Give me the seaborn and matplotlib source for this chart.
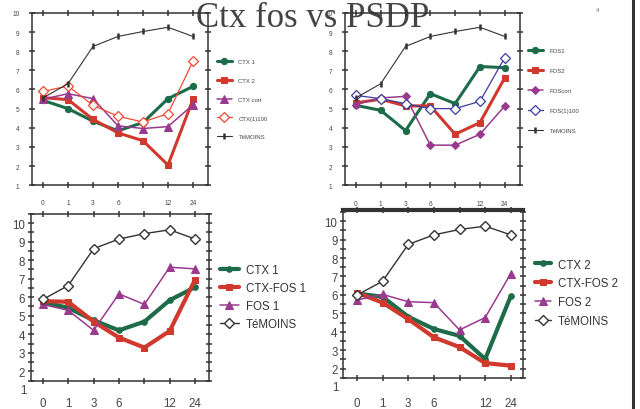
import numpy as np
import matplotlib
matplotlib.use("Agg")
import matplotlib.pyplot as plt
from matplotlib.lines import Line2D
import seaborn as sns

# Step 1: data
times = ["0", "1", "3", "6", "", "12", "24"]

# top-left panel (CTX)
ctx1_a = [5.43, 5.00, 4.34, 3.84, 4.27, 5.52, 6.16]
ctx2_a = [5.57, 5.47, 4.44, 3.73, 3.32, 2.05, 5.49]
ctxcort_a = [5.49, 5.78, 5.52, 4.10, 3.96, 4.06, 5.20]
ctx100_a = [5.90, 6.18, 5.17, 4.60, 4.30, 4.74, 7.48]
temoins_top = [5.56, 6.30, 8.25, 8.77, 9.03, 9.25, 8.77]

# top-right panel (FOS)
fos1_b = [5.17, 4.91, 3.85, 5.78, 5.26, 7.20, 7.14]
fos2_b = [5.30, 5.49, 5.14, 5.14, 3.66, 4.27, 6.61]
foscort_b = [5.21, 5.56, 5.64, 3.09, 3.09, 3.66, 5.14]
fos100_b = [5.69, 5.52, 5.26, 5.00, 5.00, 5.38, 7.67]

# bottom-left panel
ctx1_c = [5.73, 5.43, 4.75, 4.21, 4.68, 5.84, 6.54]
ctxfos1_c = [5.79, 5.75, 4.68, 3.82, 3.28, 4.18, 6.95]
fos1_c = [5.61, 5.29, 4.21, 6.18, 5.61, 7.62, 7.53]
temoins_c = [5.88, 6.63, 8.62, 9.14, 9.43, 9.64, 9.14]

# bottom-right panel
ctx2_d = [6.08, 5.90, 4.82, 4.15, 3.78, 2.52, 5.94]
ctxfos2_d = [6.12, 5.58, 4.69, 3.70, 3.17, 2.30, 2.16]
fos2_d = [5.72, 6.03, 5.63, 5.58, 4.10, 4.77, 7.16]
temoins_d = [5.99, 6.74, 8.74, 9.26, 9.55, 9.73, 9.26]

GREEN = "#1d6b48"
RED = "#d2392e"
PURPLE = "#9a3a8e"
ORANGE_RED = "#ee4a35"
BLUE = "#3a3d9c"
DARK = "#333333"

sns.set_style("ticks")
plt.rcParams["font.family"] = ["Liberation Sans", "DejaVu Sans"]

x = np.arange(len(times))

fig = plt.figure(figsize=(6.4, 4.1), dpi=100)


def draw(ax, series, lab_size, ylim, xlim):
    for vals, label, kw in series:
        sns.lineplot(x=x, y=vals, ax=ax, label=label, legend=False, **kw)
    ax.set_xlim(*xlim)
    ax.set_ylim(*ylim)
    ax.set_xticks(x)
    ax.set_xticklabels(times)
    ax.set_yticks([t for t in range(1, 11) if ylim[0] <= t <= ylim[1]])
    ax.set_xlabel("")
    ax.set_ylabel("")
    ax.patch.set_alpha(0)
    for s in ax.spines.values():
        s.set_visible(True)
        s.set_color(DARK)
        s.set_linewidth(1.1)
    ax.tick_params(axis="both", which="both", direction="inout", length=4,
                   width=1.1, color=DARK, top=True, right=True,
                   labelsize=lab_size, labelcolor="#444444")


# Step 2: the four panels
ax1 = fig.add_axes([0.050, 0.546, 0.275, 0.420])
draw(ax1, [
    (ctx1_a, "CTX 1", dict(color=GREEN, lw=2.2, marker="o", ms=4.5, mec=GREEN)),
    (ctx2_a, "CTX 2", dict(color=RED, lw=2.2, marker="s", ms=5, mec=RED)),
    (ctxcort_a, "CTX cort", dict(color=PURPLE, lw=1.1, marker="^", ms=5.5, mec=PURPLE)),
    (ctx100_a, "CTX(1)100", dict(color=ORANGE_RED, lw=0.9, marker="D", ms=5,
                                 mfc="white", mec=ORANGE_RED, mew=0.9)),
    (temoins_top, "TéMOINS", dict(color=DARK, lw=0.8, marker="|", ms=5,
                                  mew=1.8, mec=DARK)),
], 4.7, (1, 10), (-0.44, 6.6))
ax1.tick_params(axis="x", pad=8)
ax1.tick_params(axis="y", pad=7)

ax2 = fig.add_axes([0.539, 0.546, 0.273, 0.420])
draw(ax2, [
    (fos1_b, "FOS1", dict(color=GREEN, lw=2.2, marker="o", ms=4.5, mec=GREEN)),
    (fos2_b, "FOS2", dict(color=RED, lw=2.2, marker="s", ms=5, mec=RED)),
    (foscort_b, "FOScort", dict(color=PURPLE, lw=1.1, marker="D", ms=4.5, mec=PURPLE)),
    (fos100_b, "FOS(1)100", dict(color=BLUE, lw=0.9, marker="D", ms=5,
                                 mfc="white", mec=BLUE, mew=0.9)),
    (temoins_top, "TéMOINS", dict(color=DARK, lw=0.8, marker="|", ms=5,
                                  mew=1.8, mec=DARK)),
], 4.7, (1, 10), (-0.44, 6.6))
ax2.tick_params(axis="x", pad=9)
ax2.tick_params(axis="y", pad=7)

ax3 = fig.add_axes([0.048, 0.068, 0.279, 0.408])
draw(ax3, [
    (ctx1_c, "CTX 1", dict(color=GREEN, lw=3.0, marker="o", ms=4, mec=GREEN)),
    (ctxfos1_c, "CTX-FOS 1", dict(color=RED, lw=3.0, marker="s", ms=5, mec=RED)),
    (fos1_c, "FOS 1", dict(color=PURPLE, lw=1.1, marker="^", ms=6, mec=PURPLE)),
    (temoins_c, "TéMOINS", dict(color=DARK, lw=1.0, marker="D", ms=5,
                                mfc="white", mec=DARK, mew=1.0)),
], 8.3, (1.47, 10.45), (-0.48, 6.56))
ax3.tick_params(axis="x", pad=9.5)
ax3.tick_params(axis="y", pad=2)

ax4 = fig.add_axes([0.536, 0.076, 0.281, 0.409])
draw(ax4, [
    (ctx2_d, "CTX 2", dict(color=GREEN, lw=3.0, marker="o", ms=4, mec=GREEN)),
    (ctxfos2_d, "CTX-FOS 2", dict(color=RED, lw=3.0, marker="s", ms=5, mec=RED)),
    (fos2_d, "FOS 2", dict(color=PURPLE, lw=1.1, marker="^", ms=6, mec=PURPLE)),
    (temoins_d, "TéMOINS", dict(color=DARK, lw=1.0, marker="D", ms=5,
                                mfc="white", mec=DARK, mew=1.0)),
], 8.3, (1.6, 10.6), (-0.54, 6.47))
ax4.spines["top"].set_linewidth(3)
ax4.tick_params(axis="x", pad=11.5)
ax4.tick_params(axis="y", pad=2)

# the "1" label sits below the box in the bottom panels
for ax in (ax3, ax4):
    ax.text(-0.025, 1, "1", transform=ax.get_yaxis_transform(), ha="right",
            va="center", fontsize=8.3, color="#444444", clip_on=False)
    ax.set_yticks(np.arange(1.5, 10.6, 1.0), minor=True)

# Step 3: legends
small = dict(frameon=False, borderpad=0, borderaxespad=0, loc="center left",
             numpoints=1, bbox_transform=fig.transFigure, labelcolor="#444444")
ax1.legend(bbox_to_anchor=(0.339, 0.756), fontsize=4.3, labelspacing=2.3,
           handlelength=2.5, handletextpad=1.1, **small)
ax2.legend(bbox_to_anchor=(0.825, 0.777), fontsize=4.3, labelspacing=2.5,
           handlelength=2.5, handletextpad=1.1, **small)
big = dict(small, labelcolor="#333333")
ax3.legend(bbox_to_anchor=(0.344, 0.272), fontsize=8.3, labelspacing=0.52,
           handlelength=1.6, handletextpad=0.6, **big)
ax4.legend(bbox_to_anchor=(0.836, 0.284), fontsize=8.3, labelspacing=0.58,
           handlelength=1.4, handletextpad=0.6, **big)

# Step 4: slide decorations
fig.text(0.489, 0.934, "Ctx fos vs PSDP", fontsize=25, ha="center",
         va="baseline", color="#444444", family="Liberation Serif", zorder=-1)
fig.text(0.933, 0.975, "4", fontsize=4, color="#666666", ha="center", va="center")
fig.add_artist(Line2D([0.9898, 0.9898], [0, 1], lw=2.2, color="#333333"))

fig.savefig("out.png", dpi=100)
